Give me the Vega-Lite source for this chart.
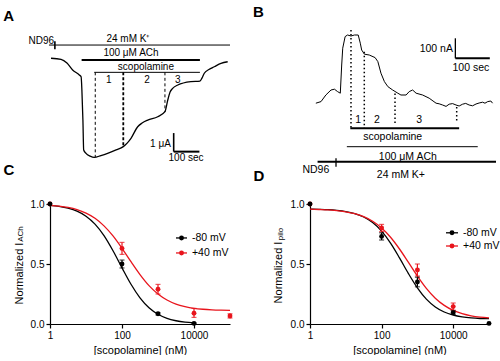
{
  "$schema": "https://vega.github.io/schema/vega-lite/v6.json",
  "padding": {"left": 3, "top": 4, "right": 0, "bottom": 0},
  "bounds": "flush",
  "align": "each",
  "columns": 2,
  "spacing": {"row": 44, "column": 80},
  "config": {
    "font": "Liberation Sans",
    "view": {"stroke": null},
    "axis": {"grid": false, "domainColor": "black", "tickColor": "black", "labelColor": "black", "titleColor": "black", "tickSize": 4, "labelPadding": 2, "labelFontSize": 10, "titleFontSize": 11, "titleFontWeight": "normal", "labelFlush": false, "domainWidth": 1.2, "tickWidth": 1.2}
  },
  "concat": [
    {
      "width": 180, "height": 130,
      "layer": [
        {
          "data": {"values": [{"t":4,"I":-1.52},{"t":43,"I":-1.58},{"t":66,"I":-1.78},{"t":88,"I":-2.15},{"t":114,"I":-2.42},{"t":121,"I":-2.52},{"t":124,"I":-3.23},{"t":128,"I":-4.85},{"t":131,"I":-6.46},{"t":140,"I":-6.64},{"t":156,"I":-6.79},{"t":172,"I":-6.86},{"t":198,"I":-6.76},{"t":224,"I":-6.64},{"t":257,"I":-6.46},{"t":285,"I":-6.28},{"t":300,"I":-6.09},{"t":315,"I":-5.83},{"t":341,"I":-5.21},{"t":358,"I":-5.01},{"t":380,"I":-4.85},{"t":419,"I":-4.67},{"t":447,"I":-4.4},{"t":458,"I":-3.77},{"t":467,"I":-3.34},{"t":477,"I":-3.14},{"t":497,"I":-2.96},{"t":548,"I":-2.78},{"t":583,"I":-2.75},{"t":591,"I":-2.59},{"t":600,"I":-2.33},{"t":618,"I":-2.13},{"t":639,"I":-1.98},{"t":665,"I":-1.8},{"t":691,"I":-1.71}]},
          "mark": {"type": "line", "color": "black", "strokeWidth": 1.3, "interpolate": "monotone"},
          "encoding": {
            "x": {"field": "t", "type": "quantitative", "scale": {"domain": [0, 700], "nice": false, "zero": false}, "axis": null},
            "y": {"field": "I", "type": "quantitative", "scale": {"domain": [-7, 0], "nice": false, "zero": false}, "axis": null}
          }
        },
        {
          "data": {"values": [{"bar":"24 mM K+","t1":-4,"t2":700,"I":-0.81},{"bar":"scopolamine","t1":172,"t2":583,"I":-2.28}]},
          "mark": {"type": "rule", "color": "black", "strokeWidth": 1},
          "encoding": {"x": {"field": "t1", "type": "quantitative"}, "x2": {"field": "t2"}, "y": {"field": "I", "type": "quantitative"}}
        },
        {
          "data": {"values": [{"bar":"100 uM ACh","t1":123,"t2":583,"I":-1.62},{"bar":"100 sec","t1":481,"t2":581,"I":-6.55}]},
          "mark": {"type": "rule", "color": "black", "strokeWidth": 2},
          "encoding": {"x": {"field": "t1", "type": "quantitative"}, "x2": {"field": "t2"}, "y": {"field": "I", "type": "quantitative"}}
        },
        {
          "data": {"values": [{"t":176,"I1":-2.28,"I2":-6.84},{"t":447,"I1":-2.28,"I2":-4.42}]},
          "mark": {"type": "rule", "color": "black", "strokeWidth": 1, "strokeDash": [3, 2.5]},
          "encoding": {"x": {"field": "t", "type": "quantitative"}, "y": {"field": "I1", "type": "quantitative"}, "y2": {"field": "I2"}}
        },
        {
          "data": {"values": [{"t":285,"I1":-2.28,"I2":-6.3}]},
          "mark": {"type": "rule", "color": "black", "strokeWidth": 1.8, "strokeDash": [3, 2]},
          "encoding": {"x": {"field": "t", "type": "quantitative"}, "y": {"field": "I1", "type": "quantitative"}, "y2": {"field": "I2"}}
        },
        {
          "data": {"values": [{"t":19,"I1":-0.6,"I2":-1.04},{"t":481,"I1":-5.55,"I2":-6.55}]},
          "mark": {"type": "rule", "color": "black", "strokeWidth": 1.6},
          "encoding": {"x": {"field": "t", "type": "quantitative"}, "y": {"field": "I1", "type": "quantitative"}, "y2": {"field": "I2"}}
        },
        {
          "data": {"values": [{"t":303,"I":-0.49,"txt":"24 mM K⁺"},{"t":315,"I":-1.24,"txt":"100 μM ACh"},{"t":373,"I":-1.98,"txt":"scopolamine"},{"t":229,"I":-2.69,"txt":"1"},{"t":377,"I":-2.69,"txt":"2"},{"t":497,"I":-2.69,"txt":"3"},{"t":529,"I":-6.87,"txt":"100 sec"}]},
          "mark": {"type": "text", "fontSize": 10, "align": "center", "baseline": "middle", "color": "black"},
          "encoding": {"x": {"field": "t", "type": "quantitative"}, "y": {"field": "I", "type": "quantitative"}, "text": {"field": "txt"}}
        },
        {
          "data": {"values": [{"t":16,"I":-0.6,"txt":"ND96"},{"t":470,"I":-6.14,"txt":"1 μA"}]},
          "mark": {"type": "text", "fontSize": 10, "align": "right", "baseline": "middle", "color": "black"},
          "encoding": {"x": {"field": "t", "type": "quantitative"}, "y": {"field": "I", "type": "quantitative"}, "text": {"field": "txt"}}
        },
        {
          "data": {"values": [{"t":-161,"I":0.78,"txt":"A"}]},
          "mark": {"type": "text", "fontSize": 15, "fontWeight": "bold", "align": "center", "baseline": "middle", "color": "black"},
          "encoding": {"x": {"field": "t", "type": "quantitative"}, "y": {"field": "I", "type": "quantitative"}, "text": {"field": "txt"}}
        }
      ]
    },
    {
      "width": 186, "height": 130,
      "layer": [
        {
          "data": {"values": [{"t":17,"I":284},{"t":32,"I":292},{"t":46,"I":325},{"t":61,"I":350},{"t":71,"I":354},{"t":80,"I":342},{"t":88,"I":334},{"t":92,"I":475},{"t":95,"I":559},{"t":102,"I":617},{"t":109,"I":625},{"t":119,"I":620},{"t":129,"I":625},{"t":140,"I":625},{"t":146,"I":584},{"t":150,"I":550},{"t":158,"I":529},{"t":172,"I":525},{"t":189,"I":512},{"t":197,"I":492},{"t":206,"I":434},{"t":216,"I":392},{"t":226,"I":367},{"t":240,"I":350},{"t":255,"I":334},{"t":264,"I":325},{"t":279,"I":325},{"t":288,"I":342},{"t":298,"I":350},{"t":308,"I":334},{"t":327,"I":325},{"t":346,"I":309},{"t":366,"I":284},{"t":375,"I":281},{"t":385,"I":275},{"t":395,"I":268},{"t":404,"I":279},{"t":414,"I":282},{"t":424,"I":275},{"t":433,"I":270},{"t":443,"I":279},{"t":452,"I":283},{"t":462,"I":275},{"t":472,"I":271},{"t":482,"I":280},{"t":491,"I":285},{"t":501,"I":289},{"t":508,"I":284},{"t":516,"I":292},{"t":525,"I":295},{"t":530,"I":284}]},
          "mark": {"type": "line", "color": "black", "strokeWidth": 1},
          "encoding": {
            "x": {"field": "t", "type": "quantitative", "scale": {"domain": [0, 540], "nice": false, "zero": false}, "axis": null},
            "y": {"field": "I", "type": "quantitative", "scale": {"domain": [0, 650], "nice": false, "zero": false}, "axis": null}
          }
        },
        {
          "data": {"values": [{"bar":"scopolamine","t1":117,"t2":433,"I":158.5},{"bar":"24 mM K+","t1":22,"t2":540,"I":-8.5},{"bar":"100 sec","t1":422,"t2":522,"I":508.5}]},
          "mark": {"type": "rule", "color": "black", "strokeWidth": 2},
          "encoding": {"x": {"field": "t1", "type": "quantitative"}, "x2": {"field": "t2"}, "y": {"field": "I", "type": "quantitative"}}
        },
        {
          "data": {"values": [{"bar":"100 uM ACh","t1":107,"t2":487,"I":66.5}]},
          "mark": {"type": "rule", "color": "black", "strokeWidth": 1},
          "encoding": {"x": {"field": "t1", "type": "quantitative"}, "x2": {"field": "t2"}, "y": {"field": "I", "type": "quantitative"}}
        },
        {
          "data": {"values": [{"t":119,"I1":650,"I2":158.5},{"t":157.6,"I1":541,"I2":158.5},{"t":246.8,"I1":333,"I2":183},{"t":425.9,"I1":265,"I2":191}]},
          "mark": {"type": "rule", "color": "black", "strokeWidth": 1.5, "strokeDash": [1.5, 2.5]},
          "encoding": {"x": {"field": "t", "type": "quantitative"}, "y": {"field": "I1", "type": "quantitative"}, "y2": {"field": "I2"}}
        },
        {
          "data": {"values": [{"t":75.5,"I1":8.5,"I2":-33.5},{"t":422,"I1":608.5,"I2":508.5}]},
          "mark": {"type": "rule", "color": "black", "strokeWidth": 1.3},
          "encoding": {"x": {"field": "t", "type": "quantitative"}, "y": {"field": "I1", "type": "quantitative"}, "y2": {"field": "I2"}}
        },
        {
          "data": {"values": [{"t":140,"I":200,"txt":"1"},{"t":194.5,"I":200,"txt":"2"},{"t":317,"I":200,"txt":"3"},{"t":240,"I":113.5,"txt":"scopolamine"},{"t":284,"I":16.5,"txt":"100 μM ACh"},{"t":17,"I":-50,"txt":"ND96"},{"t":264,"I":-75,"txt":"24 mM K+"},{"t":467,"I":461.5,"txt":"100 sec"}]},
          "mark": {"type": "text", "fontSize": 10.5, "align": "center", "baseline": "middle", "color": "black"},
          "encoding": {"x": {"field": "t", "type": "quantitative"}, "y": {"field": "I", "type": "quantitative"}, "text": {"field": "txt"}}
        },
        {
          "data": {"values": [{"t":415,"I":555,"txt":"100 nA"}]},
          "mark": {"type": "text", "fontSize": 10.5, "align": "right", "baseline": "middle", "color": "black"},
          "encoding": {"x": {"field": "t", "type": "quantitative"}, "y": {"field": "I", "type": "quantitative"}, "text": {"field": "txt"}}
        },
        {
          "data": {"values": [{"t":-149.5,"I":742,"txt":"B"}]},
          "mark": {"type": "text", "fontSize": 15, "fontWeight": "bold", "align": "center", "baseline": "middle", "color": "black"},
          "encoding": {"x": {"field": "t", "type": "quantitative"}, "y": {"field": "I", "type": "quantitative"}, "text": {"field": "txt"}}
        }
      ]
    },
    {
      "width": 180, "height": 120,
      "encoding": {
        "x": {"field": "c", "type": "quantitative", "scale": {"type": "log", "domain": [1, 100000], "nice": false}, "axis": {"values": [1, 100, 10000], "format": "d", "title": "[scopolamine] (nM)", "titlePadding": 4}},
        "y": {"field": "y", "type": "quantitative", "scale": {"domain": [0, 1], "nice": false, "zero": false}, "axis": {"values": [0, 0.5, 1], "format": ".1f", "title": "Normalized I", "titleX": -26, "titleY": 69}},
        "color": {"field": "s", "type": "nominal", "scale": {"domain": ["-80 mV", "+40 mV"], "range": ["black", "#e8141c"]}, "legend": null}
      },
      "layer": [
        {
          "data": {"values": [
            {"s":"-80 mV","c":1,"y":0.989},{"s":"-80 mV","c":1.778,"y":0.98},{"s":"-80 mV","c":3.162,"y":0.965},{"s":"-80 mV","c":5.623,"y":0.94},{"s":"-80 mV","c":10,"y":0.898},{"s":"-80 mV","c":17.78,"y":0.832},{"s":"-80 mV","c":31.62,"y":0.736},{"s":"-80 mV","c":56.23,"y":0.61},{"s":"-80 mV","c":100,"y":0.468},{"s":"-80 mV","c":177.8,"y":0.331},{"s":"-80 mV","c":316.2,"y":0.218},{"s":"-80 mV","c":562.3,"y":0.135},{"s":"-80 mV","c":1000,"y":0.081},{"s":"-80 mV","c":1778,"y":0.047},{"s":"-80 mV","c":3162,"y":0.027},{"s":"-80 mV","c":5623,"y":0.015},{"s":"-80 mV","c":10000,"y":0.009},
            {"s":"+40 mV","c":1,"y":0.989},{"s":"+40 mV","c":1.778,"y":0.982},{"s":"+40 mV","c":3.162,"y":0.971},{"s":"+40 mV","c":5.623,"y":0.953},{"s":"+40 mV","c":10,"y":0.924},{"s":"+40 mV","c":17.78,"y":0.881},{"s":"+40 mV","c":31.62,"y":0.818},{"s":"+40 mV","c":56.23,"y":0.734},{"s":"+40 mV","c":100,"y":0.631},{"s":"+40 mV","c":177.8,"y":0.519},{"s":"+40 mV","c":316.2,"y":0.412},{"s":"+40 mV","c":562.3,"y":0.32},{"s":"+40 mV","c":1000,"y":0.25},{"s":"+40 mV","c":1778,"y":0.2},{"s":"+40 mV","c":3162,"y":0.166},{"s":"+40 mV","c":5623,"y":0.145},{"s":"+40 mV","c":10000,"y":0.131},{"s":"+40 mV","c":17783,"y":0.123},{"s":"+40 mV","c":31623,"y":0.118},{"s":"+40 mV","c":56234,"y":0.115},{"s":"+40 mV","c":100000,"y":0.113}
          ]},
          "mark": {"type": "line", "strokeWidth": 1.3, "interpolate": "monotone"}
        },
        {
          "data": {"values": [
            {"s":"+40 mV","c":100,"lo":0.58,"hi":0.68},{"s":"+40 mV","c":1000,"lo":0.25,"hi":0.33},{"s":"+40 mV","c":10000,"lo":0.055,"hi":0.13},{"s":"+40 mV","c":100000,"lo":0.05,"hi":0.085},
            {"s":"-80 mV","c":100,"lo":0.467,"hi":0.533},{"s":"-80 mV","c":1000,"lo":0.075,"hi":0.095},{"s":"-80 mV","c":10000,"lo":0.0,"hi":0.012}
          ]},
          "mark": {"type": "errorbar", "ticks": true, "thickness": 1.2},
          "encoding": {"y": {"field": "lo", "type": "quantitative"}, "y2": {"field": "hi"}}
        },
        {
          "data": {"values": [
            {"s":"+40 mV","c":1,"y":1},{"s":"+40 mV","c":100,"y":0.63},{"s":"+40 mV","c":1000,"y":0.29},{"s":"+40 mV","c":10000,"y":0.09},{"s":"+40 mV","c":100000,"y":0.067},
            {"s":"-80 mV","c":1,"y":1},{"s":"-80 mV","c":100,"y":0.5},{"s":"-80 mV","c":1000,"y":0.085},{"s":"-80 mV","c":10000,"y":0.005}
          ]},
          "mark": {"type": "point", "filled": true, "size": 24, "opacity": 1}
        },
        {
          "data": {"values": [{"s":"-80 mV","c":3162,"c2":6397,"y":0.717},{"s":"+40 mV","c":3162,"c2":6397,"y":0.592}]},
          "mark": {"type": "rule", "strokeWidth": 1.3},
          "encoding": {"x2": {"field": "c2"}}
        },
        {
          "data": {"values": [{"s":"-80 mV","c":4498,"y":0.717},{"s":"+40 mV","c":4498,"y":0.592}]},
          "mark": {"type": "point", "filled": true, "size": 24, "opacity": 1}
        },
        {
          "data": {"values": [{"s":"-80 mV","c":8790,"y":0.717},{"s":"+40 mV","c":8790,"y":0.592}]},
          "mark": {"type": "text", "fontSize": 10.5, "align": "left", "baseline": "middle", "color": "black"},
          "encoding": {"text": {"field": "s"}, "color": {"value": "black"}}
        },
        {
          "data": {"values": [{"c":0.152,"y":0.75,"txt":"ACh"}]},
          "mark": {"type": "text", "fontSize": 8, "angle": 270, "align": "center", "baseline": "middle", "color": "black"},
          "encoding": {"text": {"field": "txt"}, "color": {"value": "black"}}
        },
        {
          "data": {"values": [{"c":0.0726,"y":1.283,"txt":"C"}]},
          "mark": {"type": "text", "fontSize": 15, "fontWeight": "bold", "align": "center", "baseline": "middle", "color": "black"},
          "encoding": {"text": {"field": "txt"}, "color": {"value": "black"}}
        }
      ]
    },
    {
      "width": 179, "height": 120,
      "encoding": {
        "x": {"field": "c", "type": "quantitative", "scale": {"type": "log", "domain": [1, 100000], "nice": false}, "axis": {"values": [1, 100, 10000], "format": "d", "title": "[scopolamine] (nM)", "titlePadding": 4}},
        "y": {"field": "y", "type": "quantitative", "scale": {"domain": [0, 1], "nice": false, "zero": false}, "axis": {"values": [0, 0.5, 1], "format": ".1f", "title": "Normalized I", "titleX": -27, "titleY": 68}},
        "color": {"field": "s", "type": "nominal", "scale": {"domain": ["-80 mV", "+40 mV"], "range": ["black", "#e8141c"]}, "legend": null}
      },
      "layer": [
        {
          "data": {"values": [
            {"s":"-80 mV","c":1,"y":0.958},{"s":"-80 mV","c":1.778,"y":0.956},{"s":"-80 mV","c":3.162,"y":0.953},{"s":"-80 mV","c":5.623,"y":0.947},{"s":"-80 mV","c":10,"y":0.937},{"s":"-80 mV","c":17.78,"y":0.92},{"s":"-80 mV","c":31.62,"y":0.892},{"s":"-80 mV","c":56.23,"y":0.845},{"s":"-80 mV","c":100,"y":0.774},{"s":"-80 mV","c":177.8,"y":0.674},{"s":"-80 mV","c":316.2,"y":0.551},{"s":"-80 mV","c":562.3,"y":0.42},{"s":"-80 mV","c":1000,"y":0.301},{"s":"-80 mV","c":1778,"y":0.207},{"s":"-80 mV","c":3162,"y":0.142},{"s":"-80 mV","c":5623,"y":0.1},{"s":"-80 mV","c":10000,"y":0.075},{"s":"-80 mV","c":17783,"y":0.06},{"s":"-80 mV","c":31623,"y":0.051},{"s":"-80 mV","c":56234,"y":0.046},{"s":"-80 mV","c":100000,"y":0.044},
            {"s":"+40 mV","c":1,"y":0.957},{"s":"+40 mV","c":1.778,"y":0.954},{"s":"+40 mV","c":3.162,"y":0.951},{"s":"+40 mV","c":5.623,"y":0.944},{"s":"+40 mV","c":10,"y":0.935},{"s":"+40 mV","c":17.78,"y":0.919},{"s":"+40 mV","c":31.62,"y":0.894},{"s":"+40 mV","c":56.23,"y":0.856},{"s":"+40 mV","c":100,"y":0.8},{"s":"+40 mV","c":177.8,"y":0.723},{"s":"+40 mV","c":316.2,"y":0.625},{"s":"+40 mV","c":562.3,"y":0.513},{"s":"+40 mV","c":1000,"y":0.399},{"s":"+40 mV","c":1778,"y":0.297},{"s":"+40 mV","c":3162,"y":0.215},{"s":"+40 mV","c":5623,"y":0.155},{"s":"+40 mV","c":10000,"y":0.113},{"s":"+40 mV","c":17783,"y":0.086},{"s":"+40 mV","c":31623,"y":0.068},{"s":"+40 mV","c":56234,"y":0.057},{"s":"+40 mV","c":100000,"y":0.051}
          ]},
          "mark": {"type": "line", "strokeWidth": 1.3, "interpolate": "monotone"}
        },
        {
          "data": {"values": [
            {"s":"+40 mV","c":100,"lo":0.77,"hi":0.83},{"s":"+40 mV","c":1000,"lo":0.4,"hi":0.5},{"s":"+40 mV","c":10000,"lo":0.115,"hi":0.175},
            {"s":"-80 mV","c":100,"lo":0.7,"hi":0.76},{"s":"-80 mV","c":1000,"lo":0.31,"hi":0.39},{"s":"-80 mV","c":10000,"lo":0.08,"hi":0.11}
          ]},
          "mark": {"type": "errorbar", "ticks": true, "thickness": 1.2},
          "encoding": {"y": {"field": "lo", "type": "quantitative"}, "y2": {"field": "hi"}}
        },
        {
          "data": {"values": [
            {"s":"+40 mV","c":1,"y":1},{"s":"+40 mV","c":100,"y":0.8},{"s":"+40 mV","c":1000,"y":0.45},{"s":"+40 mV","c":10000,"y":0.145},
            {"s":"-80 mV","c":1,"y":1},{"s":"-80 mV","c":100,"y":0.73},{"s":"-80 mV","c":1000,"y":0.35},{"s":"-80 mV","c":10000,"y":0.095},{"s":"-80 mV","c":100000,"y":0.005}
          ]},
          "mark": {"type": "point", "filled": true, "size": 24, "opacity": 1}
        },
        {
          "data": {"values": [{"s":"-80 mV","c":6295,"c2":13614,"y":0.76},{"s":"+40 mV","c":6295,"c2":13614,"y":0.65}]},
          "mark": {"type": "rule", "strokeWidth": 1.3},
          "encoding": {"x2": {"field": "c2"}}
        },
        {
          "data": {"values": [{"s":"-80 mV","c":9257,"y":0.76},{"s":"+40 mV","c":9257,"y":0.65}]},
          "mark": {"type": "point", "filled": true, "size": 24, "opacity": 1}
        },
        {
          "data": {"values": [{"s":"-80 mV","c":18780,"y":0.76},{"s":"+40 mV","c":18780,"y":0.65}]},
          "mark": {"type": "text", "fontSize": 10.5, "align": "left", "baseline": "middle", "color": "black"},
          "encoding": {"text": {"field": "s"}, "color": {"value": "black"}}
        },
        {
          "data": {"values": [{"c":0.155,"y":0.75,"txt":"pilo"}]},
          "mark": {"type": "text", "fontSize": 8, "angle": 270, "align": "center", "baseline": "middle", "color": "black"},
          "encoding": {"text": {"field": "txt"}, "color": {"value": "black"}}
        },
        {
          "data": {"values": [{"c":0.0376,"y":1.233,"txt":"D"}]},
          "mark": {"type": "text", "fontSize": 15, "fontWeight": "bold", "align": "center", "baseline": "middle", "color": "black"},
          "encoding": {"text": {"field": "txt"}, "color": {"value": "black"}}
        }
      ]
    }
  ]
}
